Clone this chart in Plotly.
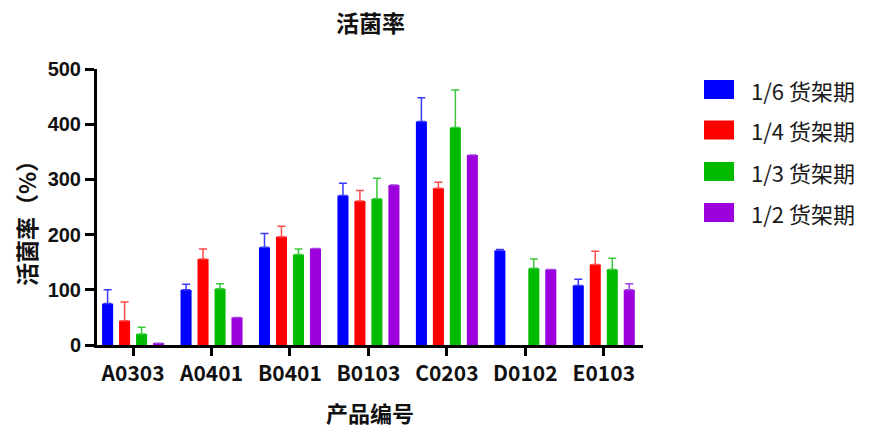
import plotly.graph_objects as go

categories = ["A0303", "A0401", "B0401", "B0103", "C0203", "D0102", "E0103"]
series_names = ["1/6 货架期", "1/4 货架期", "1/3 货架期", "1/2 货架期"]
values_16 = [75, 100, 177, 271, 405, 171, 108]
errors_16 = [25, 10, 25, 22, 43, 2, 11]
values_14 = [44, 156, 196, 261, 284, None, 146]
errors_14 = [34, 18, 19, 19, 11, None, 24]
values_13 = [20, 102, 164, 265, 394, 139, 137]
errors_13 = [12, 9, 10, 37, 68, 17, 20]
values_12 = [3, 50, 175, 290, 344, 137, 100]
errors_12 = [None, None, None, None, None, None, 11]
bar_colors = ["#0000FF", "#FF0000", "#00BB00", "#9B00DD"]
err_colors = ["#3A3AFF", "#FF4A4A", "#3CC83C", "#A040E0"]

all_values = [values_16, values_14, values_13, values_12]
all_errors = [errors_16, errors_14, errors_13, errors_12]

fig = go.Figure()
for name, vals, errs, c, ec in zip(series_names, all_values, all_errors, bar_colors, err_colors):
    fig.add_trace(go.Bar(
        x=categories, y=vals, name=name, marker=dict(color=c, line=dict(width=0)),
        error_y=dict(type="data", symmetric=False, array=errs,
                     arrayminus=[0] * len(errs), color=ec, thickness=1.5, width=4),
        showlegend=False,
    ))

shapes = []
annotations = []
row_y = [0.9257, 0.779, 0.6286, 0.480]
for name, c, yy in zip(series_names, bar_colors, row_y):
    shapes.append(dict(type="rect", xref="paper", yref="paper",
                       x0=1.1117, x1=1.1667, y0=yy - 0.0344, y1=yy + 0.0344,
                       fillcolor=c, line=dict(width=0)))
    annotations.append(dict(text=name, xref="paper", yref="paper", x=1.195, y=yy,
                            xanchor="left", yanchor="middle", showarrow=False,
                            font=dict(family="Noto Sans CJK SC", size=22, color="#1a1a1a")))

annotations.append(dict(text="活菌率", xref="paper", yref="paper", x=0.5, y=1.170,
                        xanchor="center", yanchor="middle", showarrow=False,
                        font=dict(family="Noto Sans CJK SC", size=23, color="#111111", weight="bold")))
annotations.append(dict(text="产品编号", xref="paper", yref="paper", x=0.5, y=-0.243,
                        xanchor="center", yanchor="middle", showarrow=False,
                        font=dict(family="Noto Sans CJK SC", size=22, color="#111111", weight="bold")))
annotations.append(dict(text="活菌率（%）", xref="paper", yref="paper", x=-0.130, y=0.46,
                        xanchor="center", yanchor="middle", showarrow=False, textangle=-90,
                        font=dict(family="Noto Sans CJK SC", size=23, color="#111111", weight="bold")))

# page body has an 8px default margin, so the figure is sized/offset to compensate
fig.update_layout(
    width=867, height=425,
    margin=dict(l=89, r=232, t=61, b=88, autoexpand=False),
    paper_bgcolor="white", plot_bgcolor="white",
    barmode="group", bargap=0.134, bargroupgap=0.35,
    shapes=shapes, annotations=annotations,
    xaxis=dict(range=[-0.46, 6.5], showline=True, linecolor="black", linewidth=3,
               ticks="outside", ticklen=8, tickwidth=3, tickcolor="black",
               showgrid=False, zeroline=False, automargin=False,
               tickfont=dict(family="Noto Sans CJK SC", size=21, color="#111111", weight="bold")),
    yaxis=dict(range=[0, 500], dtick=100, showline=True, linecolor="black", linewidth=3,
               ticks="outside", ticklen=9, tickwidth=3, tickcolor="black",
               showgrid=False, zeroline=False, automargin=False,
               tickfont=dict(family="Liberation Sans", size=20, color="#111111", weight="bold")),
)

fig.write_html("out.html")
